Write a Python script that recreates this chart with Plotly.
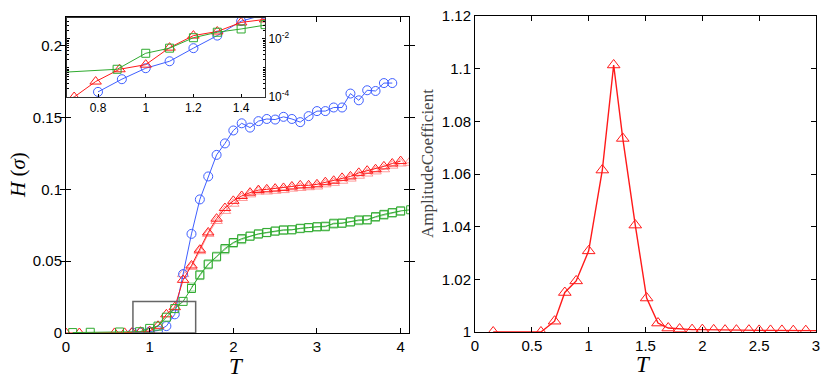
import plotly.graph_objects as go

# ---------------- data: left panel H(sigma) vs T ----------------
blue_T = [0.8, 0.9, 1.0, 1.1, 1.2, 1.3, 1.4, 1.5, 1.6, 1.7, 1.8, 1.9, 2.0, 2.1, 2.2, 2.3,
          2.4, 2.5, 2.6, 2.7, 2.8, 2.9, 3.0, 3.1, 3.2, 3.3, 3.4, 3.5, 3.6, 3.7, 3.8, 3.9]
blue_H = [0.00015, 0.00041, 0.00098, 0.0017, 0.0048, 0.013, 0.041, 0.069, 0.093, 0.109,
          0.124, 0.132, 0.141, 0.146, 0.143, 0.1475, 0.149, 0.1486, 0.1505, 0.149, 0.1468,
          0.151, 0.1545, 0.1545, 0.157, 0.157, 0.1667, 0.162, 0.169, 0.1685, 0.174, 0.174]

red_T = [0.0, 0.16, 0.58, 0.70, 0.79, 0.89, 1.0, 1.1, 1.2, 1.3, 1.4, 1.5, 1.6, 1.7, 1.8,
         1.9, 2.0, 2.1, 2.2, 2.3, 2.4, 2.5, 2.6, 2.7, 2.8, 2.9, 3.0, 3.1, 3.2, 3.3, 3.4,
         3.5, 3.6, 3.7, 3.8, 3.9, 4.0]
red_H = [0.0, 0.0, 0.00005, 0.0001, 0.00034, 0.0009, 0.0013, 0.005, 0.013, 0.018, 0.037,
         0.047, 0.058, 0.070, 0.0796, 0.087, 0.092, 0.0954, 0.0977, 0.0995, 0.100, 0.1005,
         0.101, 0.102, 0.1028, 0.1028, 0.1035, 0.105, 0.106, 0.108, 0.109, 0.1115, 0.113,
         0.114, 0.116, 0.118, 0.1197]

red2_T = [1.4, 1.5, 1.6, 1.7, 1.8, 1.9, 2.0, 2.1, 2.2, 2.3, 2.4, 2.5, 2.6, 2.7, 2.8, 2.9,
          3.0, 3.1, 3.2, 3.3, 3.4, 3.5, 3.6, 3.7, 3.8, 3.9, 4.0, 4.1]
red2_H = [0.041, 0.046, 0.057, 0.069, 0.078, 0.085, 0.090, 0.094, 0.0965, 0.0985, 0.0985,
          0.099, 0.0995, 0.1005, 0.101, 0.1015, 0.102, 0.1035, 0.1045, 0.106, 0.1075,
          0.1095, 0.111, 0.1125, 0.114, 0.1165, 0.118, 0.1185]

green_T = [0.08, 0.29, 0.64, 0.88, 1.0, 1.1, 1.2, 1.3, 1.4, 1.5, 1.6, 1.7, 1.8, 1.9, 2.0,
           2.1, 2.2, 2.3, 2.4, 2.5, 2.6, 2.7, 2.8, 2.9, 3.0, 3.1, 3.2, 3.3, 3.4, 3.5, 3.6,
           3.7, 3.8, 3.9, 4.0, 4.12]
green_H = [0.0003, 0.0005, 0.0007, 0.0009, 0.0032, 0.0048, 0.011, 0.017, 0.022, 0.031,
           0.0405, 0.048, 0.053, 0.0588, 0.063, 0.0657, 0.0675, 0.069, 0.070, 0.071, 0.0718,
           0.0718, 0.0729, 0.0734, 0.074, 0.074, 0.0764, 0.0764, 0.0773, 0.0787, 0.0787,
           0.081, 0.0826, 0.0838, 0.085, 0.0858]

green2_T = [1.5, 1.6, 1.7, 1.8, 1.9, 2.0, 2.1, 2.2, 2.3, 2.4, 2.5, 2.6, 2.7,
            2.8, 2.9, 3.0, 3.1, 3.2, 3.3, 3.4, 3.5, 3.6, 3.7, 3.8, 3.9, 4.0]
green2_H = [0.032, 0.040, 0.0475, 0.0535, 0.058, 0.0625, 0.065, 0.0672,
            0.0688, 0.0698, 0.0708, 0.0714, 0.072, 0.0726, 0.0732, 0.0738, 0.0745, 0.0758,
            0.0766, 0.0775, 0.0782, 0.079, 0.0805, 0.082, 0.0835, 0.0848]

# zoom box drawn on the main panel
box_T = [0.8, 1.55]
box_H = [0.0, 0.022]

main_xticks = [0, 1, 2, 3, 4]
main_yticks = [0, 0.05, 0.1, 0.15, 0.2]
main_yticklabels = ["0", "0.05", "0.1", "0.15", "0.2"]
inset_xticks = [0.8, 1.0, 1.2, 1.4]
inset_xticklabels = ["0.8", "1", "1.2", "1.4"]
inset_yticks = [1e-4, 1e-2]
inset_yticklabels = ["10<sup>-4</sup>", "10<sup>-2</sup>"]

# ---------------- data: right panel Amplitude coefficient ----------------
amp_T = [0.16, 0.58, 0.70, 0.79, 0.89, 1.0, 1.12, 1.22, 1.30, 1.41, 1.51, 1.61, 1.70,
         1.80, 1.91, 2.0, 2.10, 2.20, 2.30, 2.41, 2.50, 2.60, 2.70, 2.80, 2.91, 3.05]
amp_C = [1.0, 1.0, 1.0041, 1.015, 1.0194, 1.0308, 1.0615, 1.1014, 1.0735, 1.0406, 1.0129,
         1.0034, 1.0015, 1.0011, 1.0009, 1.0009, 1.0008, 1.0007, 1.0007, 1.0007, 1.0006,
         1.0006, 1.0006, 1.0005, 1.0005, 1.0005]
right_xticks = [0, 0.5, 1, 1.5, 2, 2.5, 3]
right_xticklabels = ["0", "0.5", "1", "1.5", "2", "2.5", "3"]
right_yticks = [1.0, 1.02, 1.04, 1.06, 1.08, 1.1, 1.12]
right_yticklabels = ["1", "1.02", "1.04", "1.06", "1.08", "1.1", "1.12"]

BLUE = "#3f5fff"
RED = "#ff1a1a"
GREEN = "#2faa2f"
LRED = "rgba(255,120,120,0.75)"
LGREEN = "rgba(120,200,120,0.8)"

W, H = 830, 387
def px(x0, x1):
    return [x0 / W, x1 / W]
def py(top, bottom):
    return [1 - bottom / H, 1 - top / H]

fig = go.Figure()

def series(x, y, color, symbol, size, xa, ya, lw=1.0):
    fig.add_trace(go.Scatter(
        x=x, y=y, mode="lines+markers", xaxis=xa, yaxis=ya,
        line=dict(color=color, width=lw),
        marker=dict(symbol=symbol, size=size, color=color,
                    line=dict(color=color, width=1)),
        showlegend=False, hoverinfo="skip"))

series(red2_T, red2_H, LRED, "triangle-up-open", 10, "x", "y")
series(green2_T, green2_H, LGREEN, "square-open", 8, "x", "y")
for xa, ya in (("x", "y"), ("x3", "y3")):
    series(blue_T, blue_H, BLUE, "circle-open", 9, xa, ya)
    series(red_T, red_H, RED, "triangle-up-open", 10, xa, ya)
    series(green_T, green_H, GREEN, "square-open", 8, xa, ya)

series(amp_T, amp_C, RED, "triangle-up-open", 11, "x2", "y2", lw=1.4)

tickfont = dict(family="Liberation Sans, Arial, sans-serif", size=15, color="black")
common = dict(showline=True, linecolor="black", linewidth=1, ticks="inside",
              ticklen=5, tickcolor="black", showgrid=False, zeroline=False,
              tickfont=tickfont, automargin=False)

fig.update_layout(
    template="none",
    width=W, height=H, autosize=False,
    margin=dict(l=0, r=0, t=0, b=0, pad=0, autoexpand=False),
    paper_bgcolor="white", plot_bgcolor="white",
    xaxis=dict(domain=px(66, 409), range=[0, 4.1], tickvals=main_xticks,
               anchor="y", mirror=True, **common),
    yaxis=dict(domain=py(17, 333), range=[0, 0.22], tickvals=main_yticks,
               ticktext=main_yticklabels, anchor="x", mirror="allticks", **common),
    xaxis4=dict(overlaying="x", matches="x", side="top", anchor="y",
                tickvals=[3, 4], showticklabels=False, ticks="inside", ticklen=5,
                tickcolor="black", showline=False, showgrid=False, zeroline=False,
                automargin=False),
    xaxis2=dict(domain=px(475, 816), range=[0, 3], tickvals=right_xticks,
                ticktext=right_xticklabels, anchor="y2", mirror="allticks", **common),
    yaxis2=dict(domain=py(16, 332), range=[1.0, 1.12], tickvals=right_yticks,
                ticktext=right_yticklabels, anchor="x2", mirror="allticks", **common),
)

inset_common = dict(common)
inset_common["tickfont"] = dict(family="Liberation Sans, Arial, sans-serif", size=12,
                                color="black")
inset_common["ticklen"] = 3
inset_common["linecolor"] = "#333333"
fig.update_layout(
    xaxis3=dict(domain=px(67, 265), range=[0.67, 1.5], tickvals=inset_xticks,
                ticktext=inset_xticklabels, anchor="y3", mirror=True, **inset_common),
    yaxis3=dict(domain=py(18, 97), type="log", range=[-4, -1.28], tickvals=inset_yticks,
                ticktext=inset_yticklabels, anchor="x3", side="right", mirror="allticks",
                minor=dict(ticks="inside", ticklen=2, tickcolor="black", dtick="D1",
                           showgrid=False),
                **inset_common),
)
# dummy trace to activate overlay axis xaxis4
fig.add_trace(go.Scatter(x=[None], y=[None], xaxis="x4", yaxis="y",
                         showlegend=False, hoverinfo="skip"))

fig.add_shape(type="rect", xref="x", yref="y", x0=box_T[0], x1=box_T[1],
              y0=box_H[0], y1=box_H[1], line=dict(color="#666666", width=1.5))

serif = "Liberation Serif, DejaVu Serif, serif"
fig.add_annotation(x=18 / W, y=1 - 175 / H, xref="paper", yref="paper",
                   text="<i>H</i> (<i>σ</i>)", textangle=-90, showarrow=False,
                   font=dict(family=serif, size=21, color="black"),
                   xanchor="center", yanchor="middle")
fig.add_annotation(x=236 / W, y=1 - 366 / H, xref="paper", yref="paper",
                   text="<i>T</i>", showarrow=False,
                   font=dict(family=serif, size=23, color="black"),
                   xanchor="center", yanchor="middle")
fig.add_annotation(x=643 / W, y=1 - 364 / H, xref="paper", yref="paper",
                   text="<i>T</i>", showarrow=False,
                   font=dict(family=serif, size=23, color="black"),
                   xanchor="center", yanchor="middle")
fig.add_annotation(x=427 / W, y=1 - 164 / H, xref="paper", yref="paper",
                   text="AmplitudeCoefficient", textangle=-90, showarrow=False,
                   font=dict(family=serif, size=17, color="#444444"),
                   xanchor="center", yanchor="middle")

fig.write_html("out.html", config={"displayModeBar": False},
               post_script="document.body.style.margin='0px';"
                           "document.body.style.overflow='hidden';")
